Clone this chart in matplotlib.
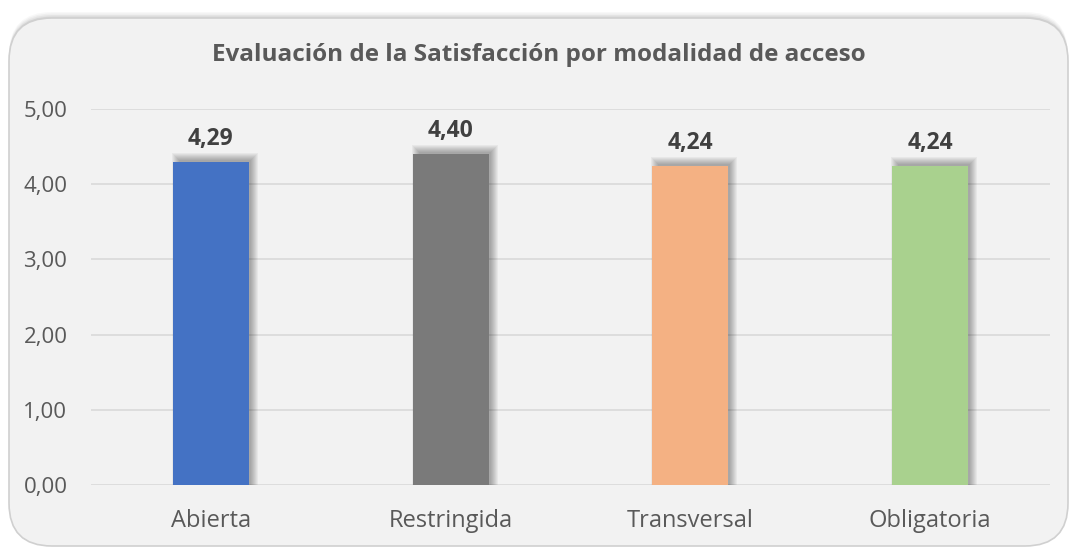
import matplotlib.pyplot as plt
from matplotlib.patches import FancyBboxPatch

categorias = ["Abierta", "Restringida", "Transversal", "Obligatoria"]
valores = [4.29, 4.40, 4.24, 4.24]
etiquetas = ["4,29", "4,40", "4,24", "4,24"]
colores = ["#4472c4", "#7a7a7a", "#f4b183", "#a9d18e"]
ticks_y = [0, 1, 2, 3, 4, 5]
ticks_y_txt = ["0,00", "1,00", "2,00", "3,00", "4,00", "5,00"]

W, H = 1072, 549
fig = plt.figure(figsize=(W / 100, H / 100), dpi=100)
fig.patch.set_facecolor("white")

# caja del grafico con sombra arriba
for i, a in enumerate([0.05, 0.07, 0.09, 0.12]):
    off = (4 - i) * 1.5
    sh = FancyBboxPatch((9 / W, 3 / H), 1059 / W, (528 + off) / H,
                        boxstyle="round,pad=0,rounding_size=0.04",
                        transform=fig.transFigure, facecolor="#808080",
                        edgecolor="none", alpha=a, mutation_aspect=W / H,
                        zorder=-10)
    fig.patches.append(sh)
box = FancyBboxPatch((9 / W, 3 / H), 1059 / W, 528 / H,
                     boxstyle="round,pad=0,rounding_size=0.04",
                     transform=fig.transFigure, facecolor="#f2f2f2",
                     edgecolor="#d0d0d0", linewidth=1.2, mutation_aspect=W / H,
                     zorder=-9)
fig.patches.append(box)

ax = fig.add_axes([91 / W, 64 / H, 959 / W, 376 / H])
ax.set_facecolor("none")
x = list(range(len(categorias)))
ancho = 0.317
px_x = 4 / 959
px_y = 5 / 376

# sombras difusas de las barras (desplazadas a la derecha)
for k in range(8):
    grow = k * 1.0
    ax.bar([xi + 4 * px_x for xi in x],
           [v + (2 + grow) * px_y for v in valores],
           width=ancho + 2 * grow * px_x - 4 * px_x,
           color="#000000", alpha=0.045, zorder=2)
ax.bar(x, valores, width=ancho, color=colores, zorder=3)

for xi, v, t in zip(x, valores, etiquetas):
    ax.text(xi, v + 0.15, t, ha="center", va="bottom", fontsize=16.5,
            fontweight="bold", color="#404040", family="Open Sans")

ax.set_xlim(-0.5, 3.5)
ax.set_ylim(0, 5)
ax.set_yticks(ticks_y)
ax.set_yticklabels(ticks_y_txt, family="Open Sans", fontsize=16, color="#595959")
ax.set_xticks(x)
ax.set_xticklabels(categorias, family="Open Sans", fontsize=17, color="#595959")
ax.grid(axis="y", color="#d9d9d9", linewidth=1.2, zorder=0)
ax.set_axisbelow(True)
for s in ax.spines.values():
    s.set_visible(False)
ax.tick_params(length=0)
ax.tick_params(axis="y", pad=17)
ax.tick_params(axis="x", pad=17)

fig.text(539 / W, 1 - 55 / H, "Evaluación de la Satisfacción por modalidad de acceso",
         ha="center", va="center", fontsize=17.5, fontweight="bold",
         color="#595959", family="Open Sans")

fig.savefig("out.png", dpi=100)
